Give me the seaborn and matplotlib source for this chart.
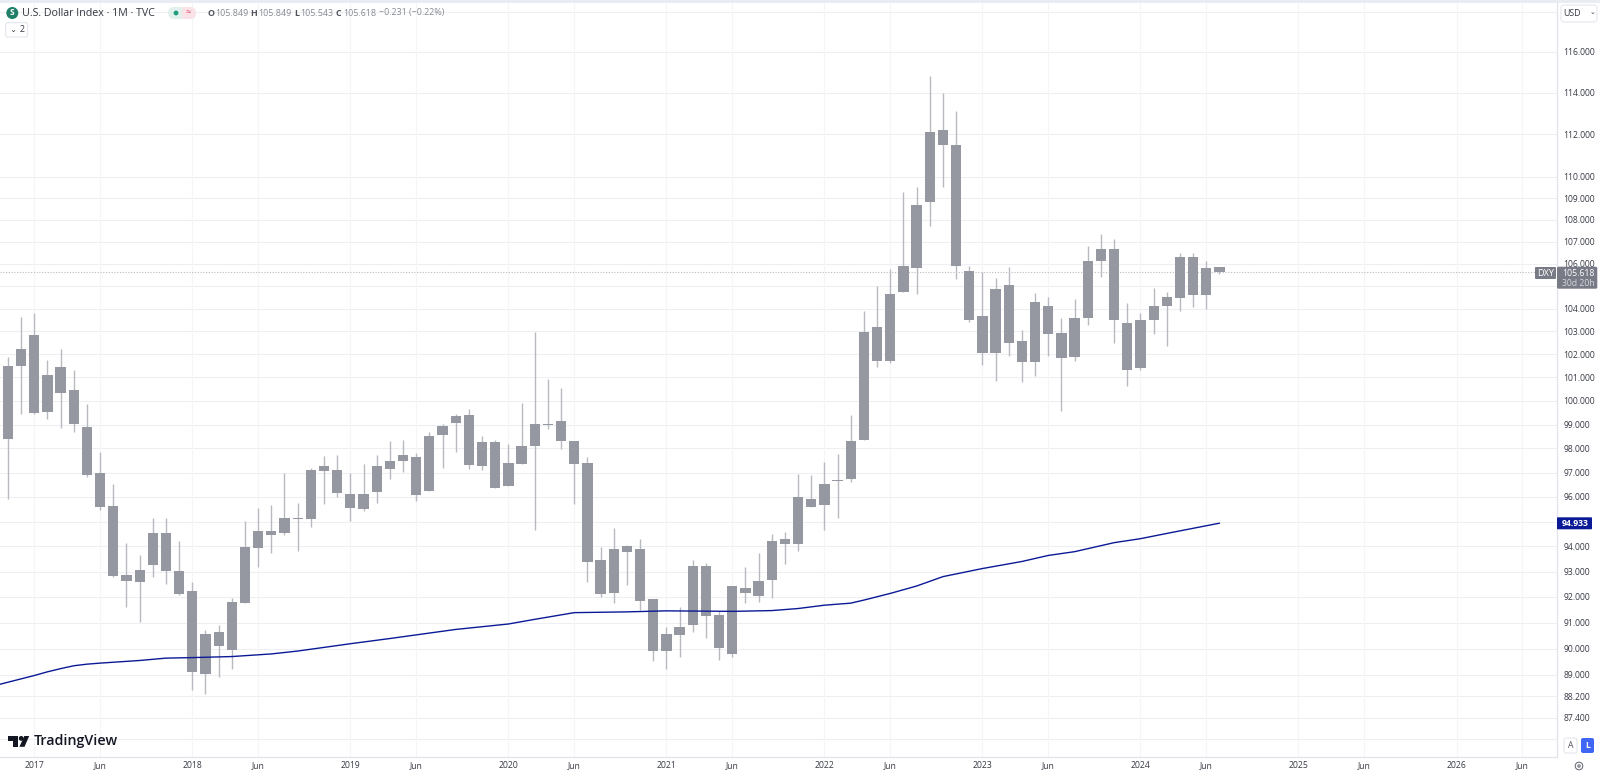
import matplotlib
matplotlib.use('Agg')
import matplotlib.pyplot as plt
from matplotlib.patches import Circle, FancyBboxPatch, Polygon, Rectangle
from matplotlib.ticker import NullFormatter, NullLocator
import numpy as np
import pandas as pd
import seaborn as sns

# monthly candles, Nov 2016 to Jul 2024 (one row per year)
highs = [101.90, 103.62,
    103.82, 101.75, 102.23, 101.33, 99.87, 97.85, 96.52, 94.13, 93.66, 95.13, 95.13, 94.21,
    92.60, 90.72, 90.92, 91.97, 95.01, 95.54, 95.66, 96.99, 95.74, 97.18, 97.68, 97.71,
    96.96, 97.36, 97.71, 98.32, 98.35, 97.79, 98.68, 99.02, 99.45, 99.67, 98.53, 98.35,
    98.18, 99.91, 102.96, 100.94, 100.55, 98.30, 97.63, 93.98, 94.73, 94.07, 94.28, 91.93,
    90.85, 91.60, 93.45, 93.33, 91.47, 92.43, 93.18, 93.73, 94.49, 94.57, 96.92, 96.88,
    97.45, 97.75, 99.41, 103.91, 105.01, 105.76, 109.29, 109.50, 114.79, 113.96, 113.12, 105.92,
    105.63, 105.36, 105.87, 103.05, 104.70, 104.50, 103.58, 104.44, 106.81, 107.33, 107.11, 104.24,
    103.81, 104.92, 104.73, 106.51, 106.48, 106.12, 105.849]
body_tops = [101.49, 102.22,
    102.86, 101.11, 101.46, 100.47, 98.91, 96.99, 95.62, 92.87, 93.08, 94.54, 94.54, 93.03,
    92.24, 90.58, 90.65, 91.81, 93.98, 94.62, 94.62, 95.13, 95.13, 97.12, 97.27, 97.12,
    96.13, 96.13, 97.27, 97.48, 97.72, 97.63, 98.51, 98.93, 99.36, 99.41, 98.27, 98.27,
    97.40, 98.12, 99.04, 99.02, 99.14, 98.30, 97.40, 93.44, 93.90, 94.02, 93.90, 91.93,
    90.55, 90.85, 93.21, 93.21, 91.30, 92.43, 92.35, 92.64, 94.22, 94.31, 95.98, 95.90,
    96.54, 96.68, 98.30, 102.96, 103.21, 104.66, 105.90, 108.70, 112.12, 112.20, 111.51, 105.69,
    103.67, 104.86, 105.04, 102.58, 104.31, 104.13, 102.92, 103.60, 106.12, 106.66, 106.66, 103.36,
    103.50, 104.13, 104.53, 106.32, 106.32, 105.83, 105.849]
body_bottoms = [98.38, 101.50,
    99.50, 99.53, 100.35, 99.04, 96.91, 95.60, 92.83, 92.64, 92.59, 93.27, 93.04, 92.12,
    89.13, 89.03, 90.10, 89.96, 91.78, 93.93, 94.47, 94.54, 95.11, 95.10, 97.05, 96.16,
    95.55, 95.52, 96.21, 97.15, 97.49, 96.09, 96.24, 98.58, 99.07, 97.32, 97.28, 96.37,
    96.44, 97.34, 98.11, 98.99, 98.32, 97.37, 93.36, 92.12, 92.17, 93.79, 91.84, 89.91,
    89.91, 90.53, 90.92, 91.27, 90.02, 89.79, 92.15, 92.05, 92.65, 94.10, 94.10, 95.58,
    95.65, 96.66, 96.72, 98.35, 101.73, 101.73, 104.74, 105.82, 108.81, 111.48, 105.92, 103.50,
    102.06, 102.06, 102.48, 101.66, 101.66, 102.90, 101.85, 101.88, 103.59, 106.13, 103.49, 101.32,
    101.41, 103.50, 104.12, 104.46, 104.61, 104.61, 105.618]
lows = [95.90, 99.45,
    99.45, 99.25, 98.87, 98.70, 96.80, 95.47, 92.80, 91.62, 91.03, 92.78, 92.51, 92.09,
    88.44, 88.29, 88.94, 89.24, 91.78, 93.20, 93.73, 94.44, 93.83, 94.79, 95.70, 96.01,
    95.04, 95.42, 95.76, 96.75, 97.01, 95.84, 96.24, 97.18, 97.86, 97.15, 97.11, 96.37,
    96.44, 97.34, 94.66, 98.82, 97.96, 95.72, 92.57, 91.99, 91.75, 92.47, 91.49, 89.53,
    89.22, 89.70, 90.64, 90.42, 89.55, 89.68, 91.78, 91.81, 91.95, 93.30, 93.83, 95.58,
    94.64, 95.16, 96.62, 98.35, 101.43, 101.64, 104.74, 104.64, 107.70, 109.54, 105.34, 103.39,
    101.53, 100.83, 101.93, 100.81, 101.05, 101.93, 99.59, 101.73, 103.29, 105.40, 102.47, 100.63,
    101.34, 102.90, 102.38, 103.90, 104.07, 103.99, 105.543]
first_month = -2  # months counted from Jan 2017

ma_months = [-3, 0, 1, 2, 3, 4, 5, 8, 10, 12, 15, 18, 20, 24, 27, 29, 32, 36, 38, 41, 45, 48, 53, 56, 58,
    60, 62, 63, 65, 67, 69, 72, 75, 77, 79, 82, 84, 86, 90]
ma_values = [88.60, 88.98, 89.12, 89.24, 89.35, 89.41, 89.45, 89.55, 89.64, 89.66, 89.70, 89.80, 89.91,
    90.19, 90.39, 90.53, 90.74, 90.95, 91.13, 91.39, 91.42, 91.46, 91.44, 91.47, 91.55,
    91.68, 91.76, 91.88, 92.14, 92.43, 92.80, 93.12, 93.40, 93.64, 93.79, 94.15, 94.31, 94.52, 94.933]

y_ticks = [118, 116, 114, 112, 110, 109, 108, 107, 106, 105, 104, 103, 102, 101, 100, 99, 98, 97,
    96, 95, 94, 93, 92, 91, 90, 89, 88.2, 87.4, 86.6]
y_hidden = [118, 105, 95, 86.6]  # covered by the labels and buttons
x_ticks = [0, 5, 12, 17, 24, 29, 36, 41, 48, 53, 60, 65, 72, 77, 84, 89, 96, 101, 108, 113]
x_labels = ['2017', 'Jun', '2018', 'Jun', '2019', 'Jun', '2020', 'Jun', '2021', 'Jun', '2022', 'Jun',
    '2023', 'Jun', '2024', 'Jun', '2025', 'Jun', '2026', 'Jun']

last_close = 105.618
last_ma = 94.933

GREY = '#9598a1'
WICK = '#b8bac1'
NAVY = '#0a1a96'
TEXT = '#383b46'
LINE = '#e0e3eb'

sns.set_theme(style='white')
plt.rcParams['font.family'] = ['Open Sans', 'DejaVu Sans']

df = pd.DataFrame({'high': highs, 'top': body_tops, 'bottom': body_bottoms, 'low': lows})
df['month'] = np.arange(len(df)) + first_month

fig = plt.figure(figsize=(16, 7.74), dpi=100)
ax = fig.add_axes([0, 17 / 774, 1557 / 1600, 754 / 774])

ax.set_yscale('log')
ax.set_xlim(-2.604, 115.63)
ax.set_ylim(85.95, 118.43)

ax.hlines(y_ticks, -3, 116, color='#eeeff2', lw=0.8, zorder=0)
ax.vlines(x_ticks, 85, 119, color='#f4f5f7', lw=0.8, zorder=0)

ax.vlines(df['month'], df['low'], df['high'], color=WICK, lw=1.0, zorder=2)
ax.bar(df['month'], df['top'] - df['bottom'], bottom=df['bottom'], width=0.78, color=GREY, linewidth=0, zorder=3)
ax.axhline(last_close, xmax=1535 / 1557, color='#b8bac2', lw=0.8, ls=(0, (1, 1.5)), zorder=1)

sns.lineplot(x=ma_months, y=ma_values, ax=ax, color=NAVY, linewidth=1.0, errorbar=None, zorder=4)

ax.yaxis.tick_right()
ax.yaxis.set_minor_locator(NullLocator())
ax.yaxis.set_minor_formatter(NullFormatter())
ax.set_yticks(y_ticks)
ax.set_yticklabels(['' if t in y_hidden else '%.3f' % t for t in y_ticks], fontsize=6.2, color=TEXT)
ax.set_xticks(x_ticks)
ax.set_xticklabels(x_labels, fontsize=6.2, color=TEXT)
ax.tick_params(axis='y', length=0, pad=4.5)
ax.tick_params(axis='x', length=0, pad=3.2)
ax.grid(False)
for name, spine in ax.spines.items():
    spine.set_visible(name in ('right', 'bottom'))
    spine.set_color(LINE)
    spine.set_linewidth(0.9)

# chart furniture, drawn in pixels on a clear overlay
over = fig.add_axes([0, 0, 1, 1], facecolor='none')
over.set_xlim(0, 1600)
over.set_ylim(774, 0)
over.axis('off')


def box(x0, y0, x1, y1, face, edge='none', r=2):
    over.add_patch(FancyBboxPatch((x0, y0), x1 - x0, y1 - y0, boxstyle='round,pad=0,rounding_size=%s' % r,
                                  fc=face, ec=edge, lw=0.7))


def label(x, y, s, size=6.2, color=TEXT, ha='left', **kw):
    over.text(x, y, s, fontsize=size, color=color, ha=ha, va='center', **kw)


over.add_patch(Rectangle((0, 0), 1600, 2.5, fc='#e9ecf2', ec='none'))

# legend row
over.add_patch(Circle((12.3, 13), 6, fc='#1f7f68', ec='none'))
label(12.3, 12.8, 'S', 6, 'white', 'center', fontweight='bold')
label(21.5, 13, 'U.S. Dollar Index · 1M · TVC', 7.7, '#33363f')
box(168, 7, 196, 19, '#e3f1ed', r=6)
box(182, 7, 196, 19, '#fae3e8', r=6)
over.add_patch(Rectangle((182, 7), 6, 12, fc='#fae3e8', ec='none'))
over.add_patch(Circle((176, 13), 2.4, fc='#1f9d80', ec='none'))
label(188.5, 12.8, '≈', 6.5, '#d8476a', 'center')
x_pos = [207, 250.5, 294.5, 336]
x_off = [8, 7.5, 5.5, 7]
for x, off, letter, val in zip(x_pos, x_off, 'OHLC', ['105.849', '105.849', '105.543', '105.618']):
    label(x, 13, letter, 6.4, '#50535e', fontweight='bold')
    label(x + off, 13, val, 6.4, '#878a94')
label(379, 13, '−0.231 (−0.22%)', 6.4, '#878a94')
box(5.7, 22.7, 27.7, 37, 'white', LINE, 2)
label(13, 29.5, '⌄', 6, TEXT, 'center', family='DejaVu Sans')
label(22, 30, '2', 6.4, TEXT, 'center')

# right scale: currency button, price tags, buttons
box(1561, 5, 1597, 22, 'white', LINE, 3)
label(1563, 13.5, 'USD', 6.4, TEXT)
label(1592.5, 12.5, '⌄', 5, TEXT, 'center', family='DejaVu Sans')

box(1535, 267, 1556, 279, '#787b86', r=1)
label(1545.5, 273, 'DXY', 6.6, 'white', 'center')
box(1557, 266.7, 1597.3, 288.7, '#787b86', r=1.5)
label(1578, 273, '105.618', 6.3, 'white', 'center')
label(1578, 283, '30d 20h', 6.2, '#d7d8dd', 'center')
box(1557, 517.3, 1592, 529.3, NAVY, r=0.8)
label(1575, 523.5, '94.933', 6.2, 'white', 'center', fontweight='bold')

box(1564, 738, 1577, 753, 'white', LINE, 2)
label(1570.5, 745.5, 'A', 6.2, '#4d505a', 'center')
box(1581, 738, 1594, 753, '#3f66f5', r=2)
label(1587.5, 745.5, 'L', 6.2, 'white', 'center', fontweight='bold')
over.add_patch(Circle((1579, 766), 3.8, fc='none', ec='#5d606b', lw=0.7))
over.add_patch(Circle((1579, 766), 1.2, fc='none', ec='#5d606b', lw=0.7))

# TradingView mark
over.add_patch(Polygon([(8, 736), (18.3, 736), (18.3, 746.8), (13.2, 746.8), (13.2, 741), (8, 741)], fc='#131722', ec='none'))
over.add_patch(Circle((21.2, 738.4), 2.4, fc='#131722', ec='none'))
over.add_patch(Polygon([(24.3, 736), (29.2, 736), (24.5, 746.8), (19.4, 746.8)], fc='#131722', ec='none'))
label(33.5, 741, 'TradingView', 10.3, '#131722', fontweight='semibold')

fig.savefig('out.png', dpi=100)
